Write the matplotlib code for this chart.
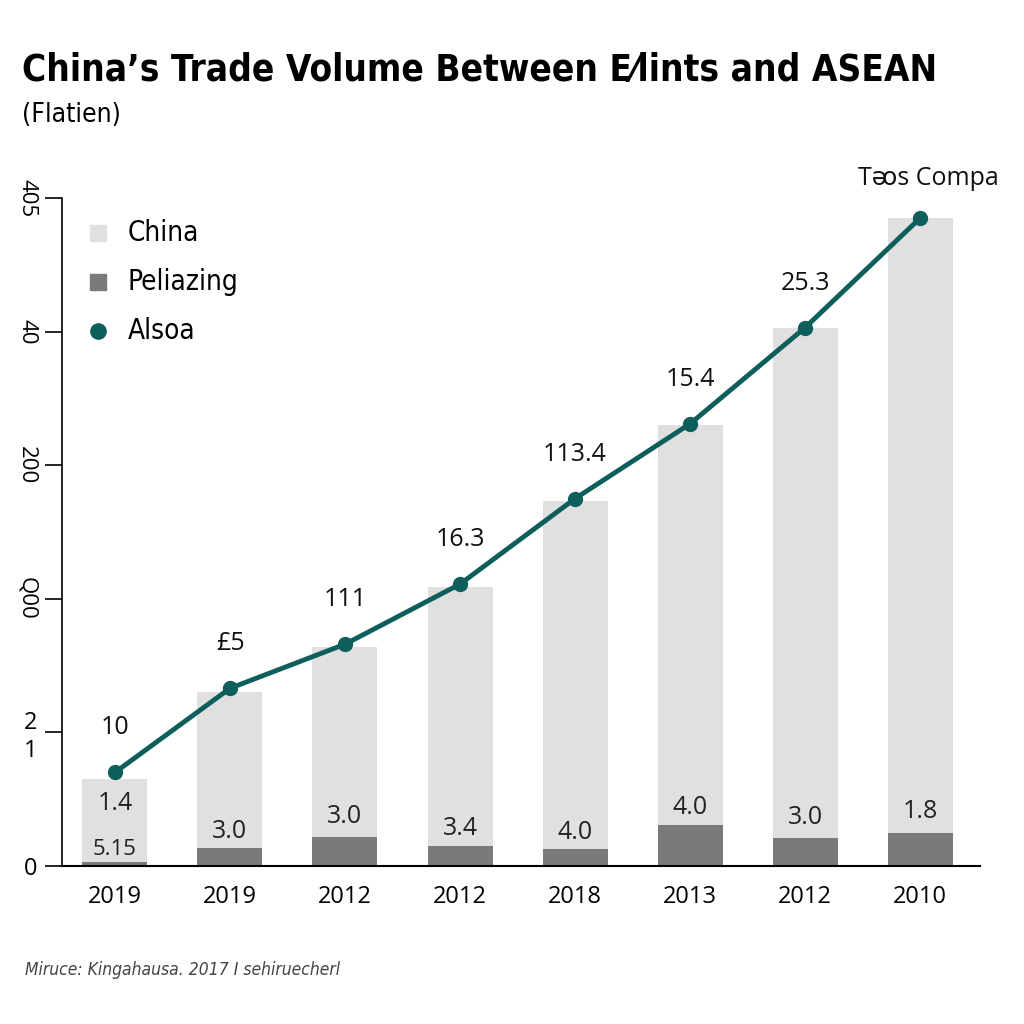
'''
China trade volume chart - bars with line overlay
'''
import matplotlib.pyplot as plt
import numpy as np

#%%
# data
years = ['2019', '2019', '2012', '2012', '2018', '2013', '2012', '2010']
china_vals = [65, 130, 164, 209, 273, 330, 403, 485]
peliazing_vals = [3, 13.5, 22, 15, 13, 31, 21, 25]
alsoa_vals = [70, 133, 166, 211, 275, 331, 403, 485]

line_labels = ['10', '£5', '111', '16.3', '113.4', '15.4', '25.3', 'Tᴔs Compa']
bar_labels = ['1.4', '3.0', '3.0', '3.4', '4.0', '4.0', '3.0', '1.8']
base_labels = ['5.15', '', '', '', '', '', '', '']

ytick_vals = [0, 100, 200, 300, 400, 500]
ytick_labels = ['0', '2\n1', 'Q00', '200', '40', '405']

#%%
# colours / fonts
light_grey = '#e0e0e0'
dark_grey = '#7a7a7a'
teal = '#0e5f5c'
narrow = ['DejaVu Sans']
plain = ['Open Sans', 'DejaVu Sans']

fig = plt.figure(figsize=(10.24, 10.24), dpi=100)
ax = fig.add_axes([62 / 1024, 158 / 1024, 918 / 1024, 668 / 1024])

x = np.arange(len(years))
ax.bar(x, china_vals, width=0.565, color=light_grey, zorder=1)
ax.bar(x, peliazing_vals, width=0.565, color=dark_grey, zorder=2)
ax.plot(x, alsoa_vals, color=teal, linewidth=3.5, marker='o', markersize=10,
        zorder=4, clip_on=False)

# labels above line points
for i, lab in enumerate(line_labels):
    dy = 24 if i < 7 else 20
    xo = 0.07 if i == 7 else 0
    ax.text(x[i] + xo, alsoa_vals[i] + dy, lab, ha='center', va='bottom',
            fontsize=18, family=plain, color='#111111', zorder=5, clip_on=False)

# labels inside bars
bar_label_y = [47, 26, 37, 28, 25, 44, 36, 41]
for i, lab in enumerate(bar_labels):
    ax.text(x[i], bar_label_y[i], lab, ha='center', va='center',
            fontsize=18, family=plain, color='#222222', zorder=5)
for i, lab in enumerate(base_labels):
    if lab:
        ax.text(x[i], 12, lab, ha='center', va='center',
                fontsize=16, family=plain, color='#222222', zorder=5)

ax.set_xlim(-0.46, 7.52)
ax.set_ylim(0, 500)
ax.set_xticks(x)
ax.set_xticklabels(years, fontsize=17, family=plain)
ax.tick_params(axis='x', length=0, pad=14)
ax.set_yticks(ytick_vals)
ax.set_yticklabels(ytick_labels, fontsize=16, family=plain)
for t, lab in zip(ax.get_yticklabels(), ytick_labels):
    if lab not in ('0', '2\n1'):
        t.set_rotation(-90)
        t.set_va('center')
    else:
        t.set_fontsize(17)
ax.tick_params(axis='y', length=12, width=1.2, pad=6)

for s in ['top', 'right']:
    ax.spines[s].set_visible(False)
ax.spines['left'].set_bounds(0, 500)
ax.spines['left'].set_linewidth(1.2)
ax.spines['bottom'].set_linewidth(1.5)

# legend
leg_items = [('China', 's', light_grey), ('Peliazing', 's', dark_grey), ('Alsoa', 'o', teal)]
for j, (name, mk, col) in enumerate(leg_items):
    yy = 1 - (233 + 49 * j) / 1024
    fig.lines.append(plt.Line2D([98 / 1024], [yy], marker=mk, markersize=11,
                                color=col, linestyle='none', transform=fig.transFigure))
    fig.text(128 / 1024, yy, name, fontsize=20, family=narrow, stretch='condensed',
             va='center', ha='left')

# titles
fig.text(22 / 1024, 1 - 70 / 1024, 'China\u2019s Trade Volume Between E\u2044lints and ASEAN',
         fontsize=26.5, fontweight='bold', family=narrow, stretch='condensed',
         va='center', ha='left')
fig.text(22 / 1024, 1 - 115 / 1024, '(Flatien)', fontsize=19, family=narrow,
         stretch='condensed', va='center', ha='left')
fig.text(25 / 1024, 1 - 970 / 1024, 'Miruce: Kingahausa. 2017 I sehiruecherl',
         fontsize=12.5, family=narrow, stretch='condensed', style='italic', color='#444444',
         va='center', ha='left')

plt.savefig('out.png', dpi=100, facecolor='white')
